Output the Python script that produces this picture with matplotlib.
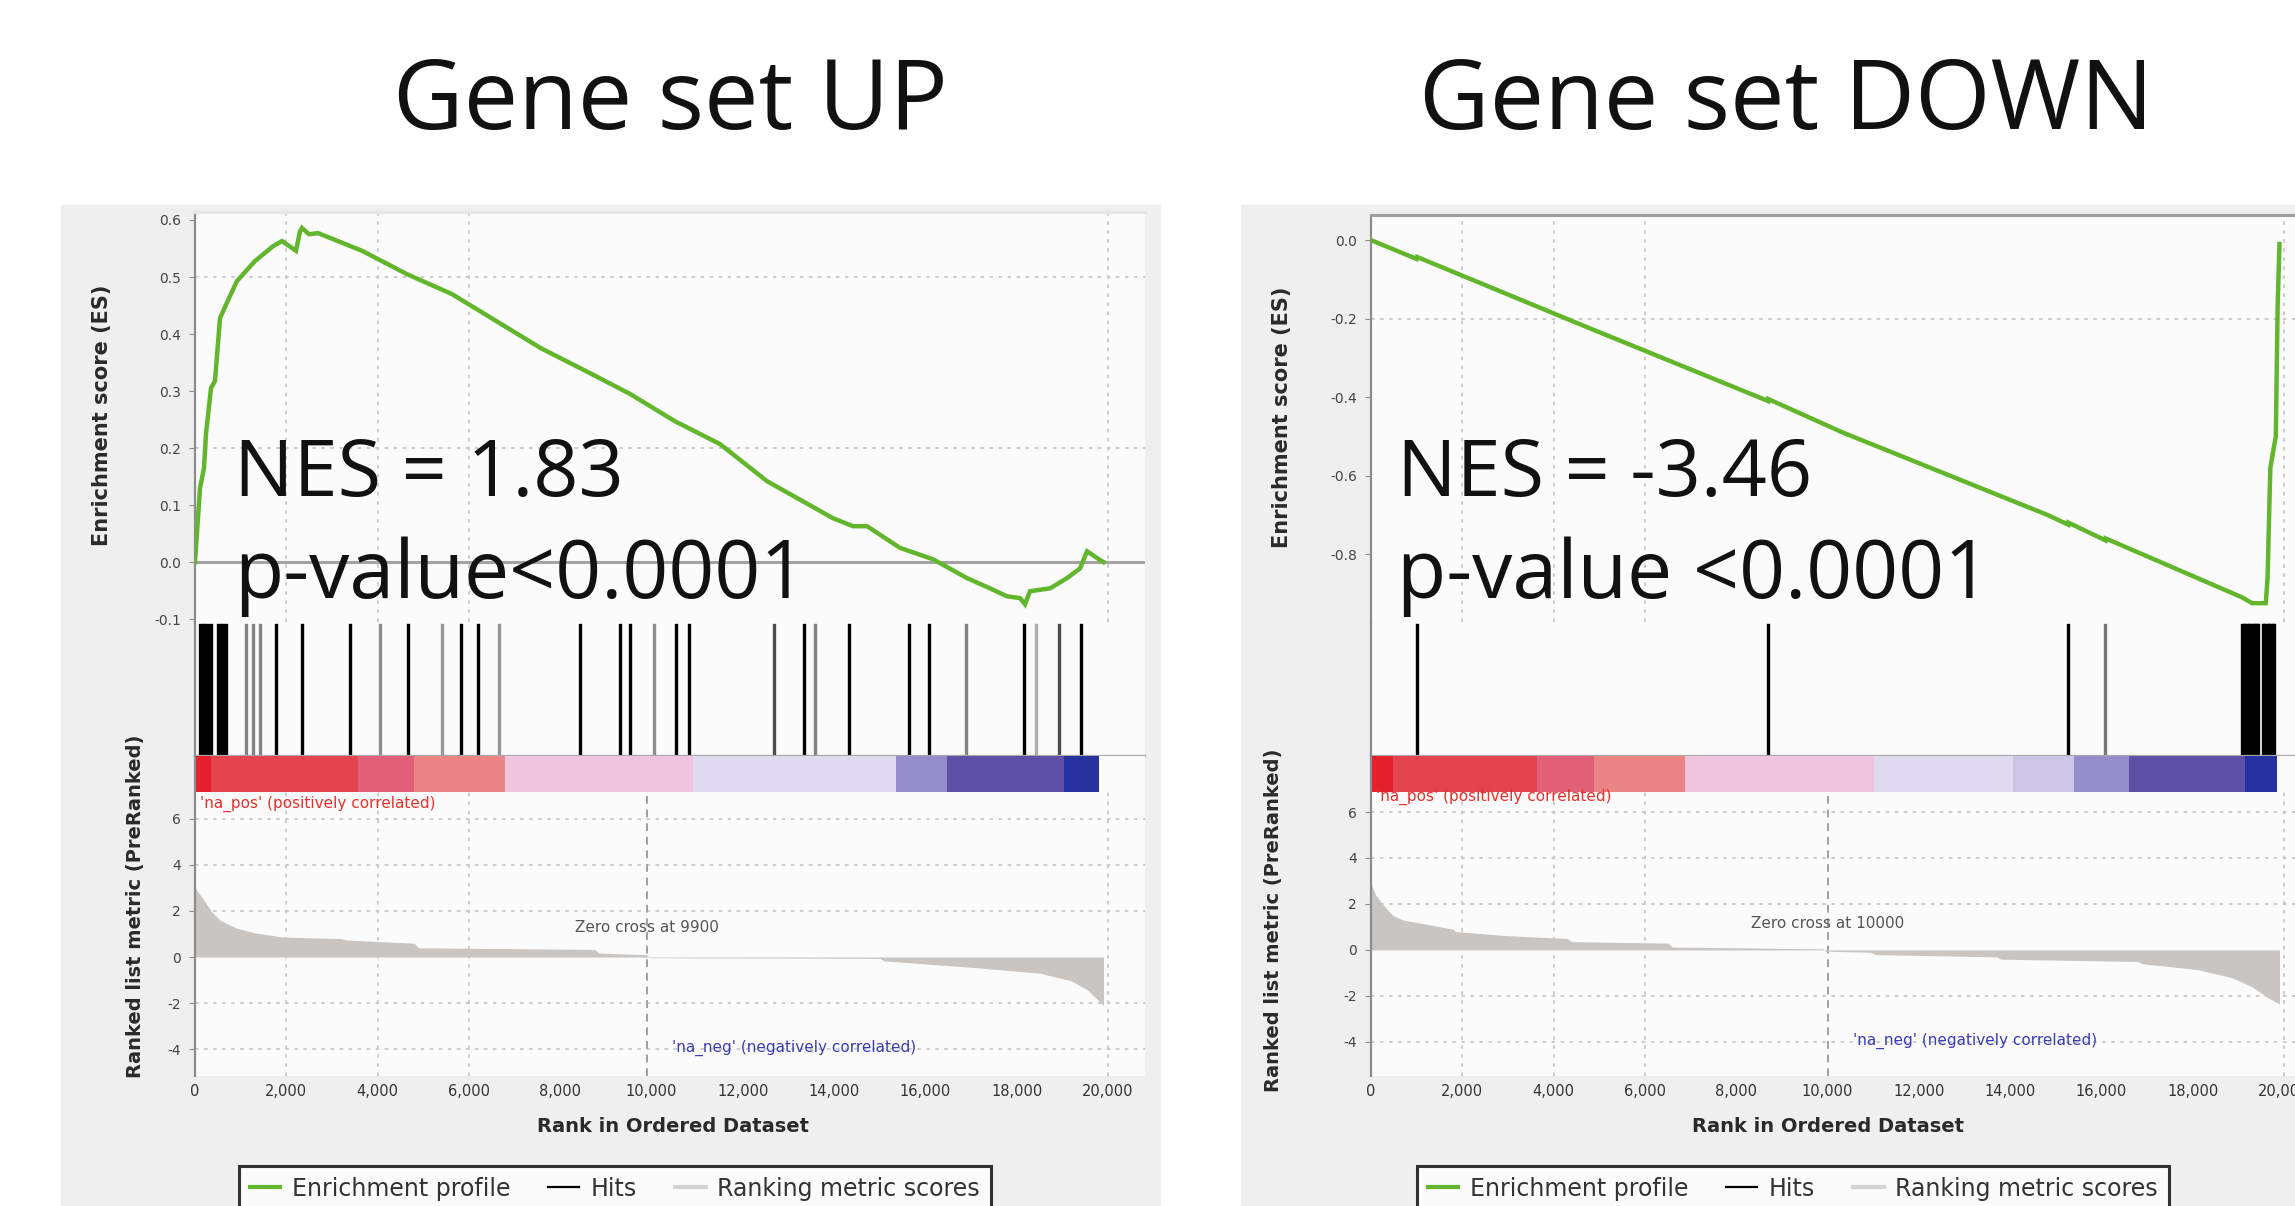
import matplotlib
matplotlib.use("Agg")
import matplotlib.pyplot as plt
from matplotlib.lines import Line2D

W, H = 2295, 1206

# ---------------- data ----------------
titles = ["Gene set UP", "Gene set DOWN"]
nes_labels = ["NES = 1.83", "NES = -3.46"]
pval_labels = ["p-value<0.0001", "p-value <0.0001"]
n_genes = 19900
zero_cross = [9900, 10000]
zero_cross_labels = ["Zero cross at 9900", "Zero cross at 10000"]
pos_label = "'na_pos' (positively correlated)"
neg_label = "'na_neg' (negatively correlated)"
es_ylabel = "Enrichment score (ES)"
metric_ylabel = "Ranked list metric (PreRanked)"
rank_xlabel = "Rank in Ordered Dataset"
legend_labels = ["Enrichment profile", "Hits", "Ranking metric scores"]

rank_ticks = [0, 2000, 4000, 6000, 8000, 10000, 12000, 14000, 16000, 18000, 20000]
rank_tick_labels = ["0", "2,000", "4,000", "6,000", "8,000", "10,000", "12,000",
                    "14,000", "16,000", "18,000", "20,000"]
up_es_ticks = [-0.1, 0.0, 0.1, 0.2, 0.3, 0.4, 0.5, 0.6]
down_es_ticks = [-0.8, -0.6, -0.4, -0.2, 0.0]
metric_ticks = [-4, -2, 0, 2, 4, 6]

# Gene set UP: running enrichment score
up_es_rank = [0, 110, 197, 241, 350, 438, 548, 745, 920, 1314, 1709, 1906, 2212,
              2300, 2344, 2497, 2694, 3658, 4644, 5630, 6594, 7580, 8565, 9529,
              10515, 11501, 12530, 13976, 14414, 14721, 15444, 16167, 16911, 17415,
              17788, 18072, 18182, 18291, 18730, 19102, 19387, 19540, 19800, 19900]
up_es = [0.0, 0.13, 0.165, 0.225, 0.305, 0.318, 0.428, 0.463, 0.493, 0.528, 0.554,
         0.563, 0.546, 0.58, 0.586, 0.575, 0.577, 0.546, 0.505, 0.47, 0.423, 0.375,
         0.335, 0.295, 0.247, 0.207, 0.142, 0.077, 0.063, 0.063, 0.025, 0.005,
         -0.028, -0.046, -0.06, -0.063, -0.074, -0.051, -0.046, -0.028, -0.011,
         0.019, 0.005, 0.0]
up_hits = [110, 170, 230, 290, 350, 500, 560, 620, 680, 1116, 1269, 1422, 1772, 2341,
           3392, 4048, 4661, 5405, 5821, 6193, 6652, 8425, 9300, 9519, 10044, 10547,
           10832, 12691, 13348, 13589, 14333, 15646, 16083, 16893, 18162, 18425,
           18928, 19409]
up_metric_rank = [0, 150, 350, 550, 900, 1300, 1900, 3200, 3300, 4800, 4900, 8750,
                  8850, 9900, 9950, 15000, 15100, 16900, 18500, 19200, 19550, 19900]
up_metric = [3.0, 2.6, 2.0, 1.6, 1.26, 1.05, 0.87, 0.8, 0.74, 0.6, 0.4, 0.33, 0.17,
             0.1, -0.03, -0.06, -0.17, -0.43, -0.7, -1.04, -1.43, -2.1]
up_bar_edges = [0, 350, 3570, 4790, 6780, 10900, 15360, 16480, 19040, 19800]
up_bar_level = [0, 1, 2, 3, 4, 5, 7, 8, 9]

# Gene set DOWN: running enrichment score
down_es_rank = [0, 1000, 1011, 4800, 8700, 8703, 10330, 14813, 15275, 15280, 16088,
                16093, 19077, 19300, 19600, 19640, 19700, 19820, 19860, 19900]
down_es = [0.0, -0.048, -0.043, -0.225, -0.41, -0.405, -0.49, -0.70, -0.725, -0.72,
           -0.765, -0.76, -0.91, -0.925, -0.925, -0.86, -0.58, -0.50, -0.17, -0.01]
down_hits = [1011, 8703, 15275, 16088, 19080, 19115, 19150, 19190, 19225, 19260,
             19300, 19335, 19370, 19410, 19440, 19530, 19565, 19600, 19640, 19675,
             19710, 19750, 19785]
down_metric_rank = [0, 100, 250, 480, 700, 1080, 1800, 1850, 3000, 4300, 4400, 6500,
                    6600, 9900, 9950, 10950, 11050, 13700, 13800, 16800, 16900, 18100,
                    18850, 19300, 19670, 19900]
down_metric = [2.9, 2.4, 2.0, 1.5, 1.3, 1.17, 0.9, 0.8, 0.62, 0.5, 0.36, 0.3, 0.13,
               0.05, -0.05, -0.1, -0.2, -0.3, -0.4, -0.5, -0.6, -0.85, -1.2, -1.6,
               -2.1, -2.35]
down_bar_edges = [0, 484, 3626, 4879, 6879, 11011, 14066, 15407, 16615, 19143, 19850]
down_bar_level = [0, 1, 2, 3, 4, 5, 6, 7, 8, 9]

# ---------------- styles ----------------
level_colors = ["#e3202b", "#e3444d", "#e15f77", "#eb8585", "#f1c4de",
                "#e0daf0", "#cdc5e6", "#958dcb", "#5e4fa7", "#2732a0"]
up_hit_gray = [0, 0, 0, 0, 0, 0, 0, 0, 0, .6, .6, .6, 0, 0, 0, .65, 0, .7, 0, 0, .7,
               0, 0, 0, .65, 0, 0, .35, 0, .6, 0, 0, 0, .6, 0, .8, .35, 0]
down_hit_gray = [0, 0, 0, .55] + [0] * 19
ES_GREEN = "#62b62c"
METRIC_GRAY = "#c9c5c2"
GRID = "#c9c9c9"

panels = [
    dict(title=titles[0], nes=nes_labels[0], pval=pval_labels[0],
         es_rank=up_es_rank, es=up_es, hits=up_hits, hit_gray=up_hit_gray,
         m_rank=up_metric_rank, metric=up_metric,
         bar_edges=up_bar_edges, bar_level=up_bar_level,
         es_ticks=up_es_ticks, zc=zero_cross[0], zc_label=zero_cross_labels[0],
         bg=(61, 205, 1161, 1216), x0=195, x1=1145, es_top=212,
         es_ylim=(-0.105, 0.614), es_grid=[0.2, 0.5], zero_line=True,
         met_ylim=(-5.17, 7.17), zc_y=1.3, title_x=670, text_x=234,
         es_lab=(102, 415), met_lab=(135, 906), xlab=(673, 1126), legend_x=239,
         top_spine="#e6e6e6"),
    dict(title=titles[1], nes=nes_labels[1], pval=pval_labels[1],
         es_rank=down_es_rank, es=down_es, hits=down_hits, hit_gray=down_hit_gray,
         m_rank=down_metric_rank, metric=down_metric,
         bar_edges=down_bar_edges, bar_level=down_bar_level,
         es_ticks=down_es_ticks, zc=zero_cross[1], zc_label=zero_cross_labels[1],
         bg=(1241, 205, 2305, 1216), x0=1371, x1=2321, es_top=215,
         es_ylim=(-0.973, 0.064), es_grid=[-0.2], zero_line=False,
         met_ylim=(-5.48, 6.87), zc_y=1.15, title_x=1786, text_x=1397,
         es_lab=(1282, 417), met_lab=(1273, 920), xlab=(1828, 1126), legend_x=1417,
         top_spine="#9d9d9d"),
]

XMAX = 20810
ES_BOT, HITS_BOT, BAR_BOT, MET_BOT = 622, 756, 792, 1076

fig = plt.figure(figsize=(W / 100, H / 100), dpi=100)
fig.patch.set_facecolor("white")


def px_axes(x0, y0, x1, y1):
    return fig.add_axes([x0 / W, 1 - y1 / H, (x1 - x0) / W, (y1 - y0) / H])


def fpos(x, y):
    return x / W, 1 - y / H


def base_style(ax, face="#fbfbfb"):
    ax.set_facecolor(face)
    for side in ("top", "right", "bottom"):
        ax.spines[side].set_visible(False)
    ax.spines["left"].set_color("#8c8c8c")
    ax.spines["left"].set_linewidth(1.6)
    ax.set_xlim(0, XMAX)
    ax.tick_params(axis="x", length=0, labelbottom=False)


for p in panels:
    # grey panel behind the plot
    bg = px_axes(*p["bg"])
    bg.set_facecolor("#efefef")
    bg.set_xticks([])
    bg.set_yticks([])
    for s in bg.spines.values():
        s.set_visible(False)
    bg.set_zorder(-10)

    x0, x1 = p["x0"], p["x1"]

    # --- enrichment score ---
    ax_es = px_axes(x0, p["es_top"], x1, ES_BOT)
    base_style(ax_es)
    ax_es.spines["top"].set_visible(True)
    ax_es.spines["top"].set_color(p["top_spine"])
    ax_es.spines["top"].set_linewidth(2.2)
    ax_es.set_ylim(*p["es_ylim"])
    ax_es.set_yticks(p["es_ticks"])
    ax_es.set_yticklabels(["{:.1f}".format(v) for v in p["es_ticks"]])
    ax_es.tick_params(axis="y", length=4, color="#8c8c8c", labelsize=10,
                      labelcolor="#444444", pad=6)
    for g in p["es_grid"]:
        ax_es.axhline(g, color=GRID, lw=1.3, ls=(0, (2, 3)), zorder=1)
    for v in (2000, 4000, 6000, 20000):
        ax_es.axvline(v, color=GRID, lw=1.3, ls=(0, (2, 3)), zorder=1)
    if p["zero_line"]:
        ax_es.axhline(0, color="#a3a3a3", lw=2.2, zorder=2)
    ax_es.plot(p["es_rank"], p["es"], color=ES_GREEN, lw=3.2, zorder=3,
               solid_joinstyle="miter")

    # --- hits ---
    ax_h = px_axes(x0, ES_BOT, x1, HITS_BOT)
    base_style(ax_h)
    ax_h.set_ylim(0, 1)
    ax_h.set_yticks([])
    ax_h.spines["bottom"].set_visible(True)
    ax_h.spines["bottom"].set_color("#a8a8a8")
    ax_h.spines["bottom"].set_linewidth(1.6)
    for r, g in zip(p["hits"], p["hit_gray"]):
        ax_h.axvline(r, ymin=0.02, ymax=0.98, color=str(g * 0.85), lw=2.4)

    # --- colour bar of ranked metric ---
    ax_b = px_axes(x0, HITS_BOT, x1, BAR_BOT)
    base_style(ax_b)
    ax_b.set_ylim(0, 1)
    ax_b.set_yticks([])
    edges = p["bar_edges"]
    for i, lev in enumerate(p["bar_level"]):
        ax_b.axvspan(edges[i], edges[i + 1], ymin=0, ymax=1,
                     color=level_colors[lev], lw=0)

    # --- ranked list metric ---
    ax_m = px_axes(x0, BAR_BOT, x1, MET_BOT)
    base_style(ax_m)
    ax_m.set_ylim(*p["met_ylim"])
    ax_m.set_yticks(metric_ticks)
    ax_m.set_yticklabels([str(v) for v in metric_ticks])
    ax_m.tick_params(axis="y", length=4, color="#8c8c8c", labelsize=10,
                     labelcolor="#444444", pad=6)
    for g in (-4, -2, 2, 4, 6):
        ax_m.axhline(g, color=GRID, lw=1.3, ls=(0, (2, 3)), zorder=1)
    for v in (2000, 4000, 6000, 20000):
        ax_m.axvline(v, color=GRID, lw=1.3, ls=(0, (2, 3)), zorder=1)
    ax_m.axvline(p["zc"], color="#a0a0a0", lw=1.4, ls=(0, (4, 3)), zorder=1)
    ax_m.fill_between(p["m_rank"], p["metric"], 0, color=METRIC_GRAY, lw=0, zorder=2)
    ax_m.text(100, 6.65, pos_label, color="#e8302c", fontsize=11, va="center",
              ha="left")
    ax_m.text(p["zc"], p["zc_y"], p["zc_label"], color="#555555", fontsize=11,
              va="center", ha="center")
    ax_m.text(p["zc"] + 550, -3.96, neg_label, color="#3b3bb3", fontsize=11,
              va="center", ha="left")
    ax_m.set_xticks(rank_ticks)
    ax_m.set_xticklabels(rank_tick_labels)
    ax_m.tick_params(axis="x", labelbottom=True, labelsize=10.5,
                     labelcolor="#333333", pad=6)

    # --- axis labels ---
    fig.text(*fpos(*p["es_lab"]), es_ylabel, rotation=90, ha="center", va="center",
             fontsize=15, fontweight="bold", color="#2a2a2a")
    fig.text(*fpos(*p["met_lab"]), metric_ylabel, rotation=90, ha="center",
             va="center", fontsize=14, fontweight="bold", color="#2a2a2a")
    fig.text(*fpos(*p["xlab"]), rank_xlabel, ha="center", va="center",
             fontsize=14, fontweight="bold", color="#2a2a2a")

    # --- headline texts ---
    fig.text(*fpos(p["title_x"], 129), p["title"], ha="center", va="baseline",
             fontsize=70, family=["Open Sans", "DejaVu Sans"], color="#111111")
    fig.text(*fpos(p["text_x"], 496), p["nes"], ha="left", va="baseline",
             fontsize=57, family=["Open Sans", "DejaVu Sans"], color="#111111")
    fig.text(*fpos(p["text_x"], 598), p["pval"], ha="left", va="baseline",
             fontsize=58, family=["Open Sans", "DejaVu Sans"], color="#111111")

    # --- legend ---
    handles = [Line2D([], [], color=ES_GREEN, lw=3),
               Line2D([], [], color="black", lw=1.6),
               Line2D([], [], color="#d4d4d4", lw=3)]
    leg = fig.legend(handles, legend_labels, loc="upper left",
                     bbox_to_anchor=fpos(p["legend_x"], 1166), ncol=3,
                     fontsize=17, frameon=True, fancybox=False, edgecolor="black",
                     borderpad=0.45, handlelength=1.3, handletextpad=0.5,
                     columnspacing=1.6, borderaxespad=0)
    leg.get_frame().set_linewidth(2.2)
    leg.get_frame().set_facecolor("white")
    for t in leg.get_texts():
        t.set_color("#333333")

fig.savefig("out.png", dpi=100, facecolor="white")
